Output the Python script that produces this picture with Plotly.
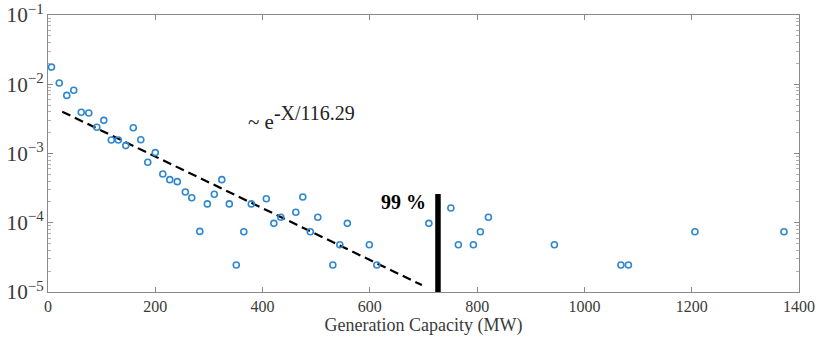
import numpy as np
import plotly.graph_objects as go

# Data
capacity_mw = [6.5, 21, 35, 48, 62, 76, 91, 104, 118, 131, 145, 159, 173, 186, 200,
               214, 227, 241, 256, 268, 283, 297, 310, 324, 338, 351, 365, 379, 407,
               421, 434, 462, 475, 489, 503, 531, 544, 558, 599, 613, 710, 751, 765,
               793, 806, 821, 944, 1068, 1082, 1206, 1372]
probability = [0.0177, 0.0104, 0.0069, 0.0082, 0.00394, 0.00385, 0.00239, 0.00301,
               0.00157, 0.00157, 0.0013, 0.00236, 0.00158, 0.000747, 0.00103,
               5.06e-4, 4.19e-4, 3.92e-4, 2.78e-4, 2.3e-4, 7.5e-5, 1.87e-4, 2.58e-4,
               4.19e-4, 1.87e-4, 2.45e-5, 7.4e-5, 1.87e-4, 2.22e-4, 9.8e-5, 1.2e-4,
               1.42e-4, 2.35e-4, 7.4e-5, 1.2e-4, 2.45e-5, 4.8e-5, 9.8e-5, 4.8e-5,
               2.45e-5, 9.8e-5, 1.63e-4, 4.8e-5, 4.8e-5, 7.4e-5, 1.2e-4, 4.8e-5,
               2.45e-5, 2.45e-5, 7.4e-5, 7.4e-5]

fit_scale = 116.29
fit_amp = 0.00505
fit_x_range = [26.5, 697]
cutoff_x = 727
cutoff_y = [1e-5, 2.6e-4]

x_ticks = [0, 200, 400, 600, 800, 1000, 1200, 1400]

fit_x = np.linspace(fit_x_range[0], fit_x_range[1], 60)
fit_y = fit_amp * np.exp(-fit_x / fit_scale)

fig = go.Figure()
fig.add_trace(go.Scatter(
    x=fit_x, y=fit_y, mode="lines",
    line=dict(color="black", width=2.2, dash="9px,5px"),
    showlegend=False, hoverinfo="skip"))
fig.add_trace(go.Scatter(
    x=capacity_mw, y=probability, mode="markers",
    marker=dict(symbol="circle-open", size=6, color="#2f87d0",
                line=dict(width=1.6, color="#2f87d0")),
    showlegend=False))
fig.add_trace(go.Scatter(
    x=[cutoff_x, cutoff_x], y=cutoff_y, mode="lines",
    line=dict(color="black", width=5.5), showlegend=False, hoverinfo="skip"))

font_family = "Liberation Serif"
fig.add_annotation(x=709, y=np.log10(2.0e-4), xref="x", yref="y",
                   text="<b>99 %</b>", showarrow=False, xanchor="right", yanchor="middle",
                   font=dict(family=font_family, size=20, color="black"))
fig.add_annotation(x=370, y=np.log10(3.3e-3), xref="x", yref="y",
                   text="~ e<sup><span style='font-size:20px'>-X/116.29</span></sup>",
                   showarrow=False, xanchor="left", yanchor="middle",
                   font=dict(family=font_family, size=21, color="#222"))

axis_color = "#8a8a8a"
fig.update_layout(
    width=821, height=337,
    margin=dict(l=48, r=22, t=15, b=45),
    paper_bgcolor="white", plot_bgcolor="white",
    font=dict(family=font_family, size=17, color="#3a3a3a"),
    xaxis=dict(range=[0, 1400], tickvals=x_ticks, ticks="inside", ticklen=5,
               tickcolor=axis_color, showline=True, linecolor=axis_color, linewidth=1,
               mirror="ticks", showgrid=False, zeroline=False, automargin=False,
               tickfont=dict(size=16),
               title=dict(text="Generation Capacity (MW)", standoff=0,
                          font=dict(size=18, color="#3a3a3a"))),
    yaxis=dict(type="log", range=[-5, -1], dtick=1, exponentformat="power",
               ticks="inside", ticklen=5, tickcolor=axis_color, showline=True,
               linecolor=axis_color, linewidth=1, mirror="ticks", showgrid=False,
               zeroline=False, automargin=False,
               minor=dict(ticks="inside", ticklen=3, tickcolor="#b0b0b0", dtick="D1",
                          showgrid=False)),
)

fig.write_html("out.html")
